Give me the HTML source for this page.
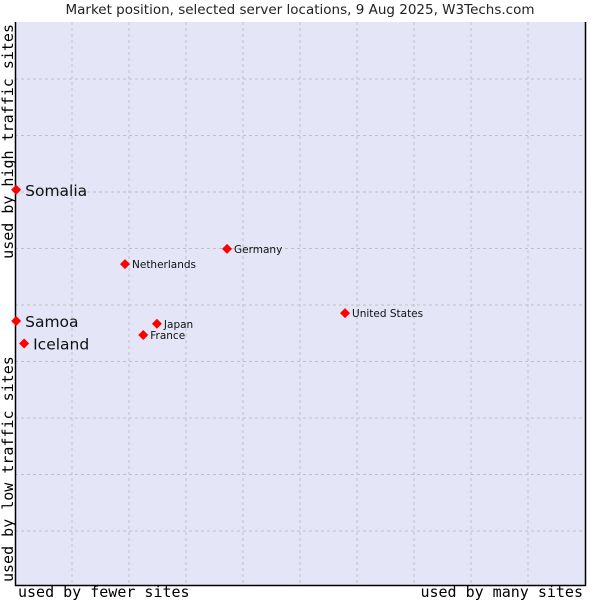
<!DOCTYPE html>
<html><head><meta charset="utf-8"><style>
body{margin:0;background:#fff;width:600px;height:600px;overflow:hidden}
svg{display:block}
</style></head><body>
<svg width="600" height="600" xmlns="http://www.w3.org/2000/svg">
<text x="300" y="14" text-anchor="middle" font-family="DejaVu Sans, sans-serif" font-size="13.5" fill="#222">Market position, selected server locations, 9 Aug 2025, W3Techs.com</text>
<rect x="15" y="22" width="570" height="563" fill="#e4e6f8"/>
<g id="grid"></g>
<path d="M15.5 22 V585.5 H585.5 V22" fill="none" stroke="#000" stroke-width="1.5"/>
<text x="18" y="597" font-family="DejaVu Sans Mono, monospace" font-size="15" fill="#000">used by fewer sites</text>
<text x="583" y="597" text-anchor="end" font-family="DejaVu Sans Mono, monospace" font-size="15" fill="#000">used by many sites</text>
<text transform="translate(13,582) rotate(-90)" font-family="DejaVu Sans Mono, monospace" font-size="15" fill="#000">used by low traffic sites</text>
<text transform="translate(13,24) rotate(-90)" text-anchor="end" font-family="DejaVu Sans Mono, monospace" font-size="15" fill="#000">used by high traffic sites</text>
<g id="points"></g>
</svg>
<script>
const names=["Somalia","Netherlands","Germany","United States","Samoa","Japan","France","Iceland"];
const xs=[0.2,19.3,37.2,57.9,0.2,24.9,22.5,1.6];
const ys=[70.2,57.0,59.7,48.3,46.9,46.4,44.4,42.9];
const big=[true,false,false,false,true,false,false,true];
const L=15,R=585,T=22,B=585;
const sx=v=>L+(R-L)*v/100, sy=v=>B-(B-T)*v/100;
const ns="http://www.w3.org/2000/svg";
const g=document.getElementById('grid');
for(let i=1;i<10;i++){
 const x=L+57*i;
 const l=document.createElementNS(ns,'line');
 l.setAttribute('x1',x);l.setAttribute('x2',x);l.setAttribute('y1',T);l.setAttribute('y2',B);
 l.setAttribute('stroke','#c0c0c0');l.setAttribute('stroke-dasharray','3,3');
 
 
 g.appendChild(l);
 const y=T+56.5*i+0.5;
 const h=document.createElementNS(ns,'line');
 h.setAttribute('x1',L);h.setAttribute('x2',R);h.setAttribute('y1',y);h.setAttribute('y2',y);
 h.setAttribute('stroke','#c0c0c0');h.setAttribute('stroke-dasharray','3,3');
 
 
 g.appendChild(h);
}
const p=document.getElementById('points');
names.forEach((n,i)=>{
 const x=sx(xs[i]),y=sy(ys[i]);
 const d=document.createElementNS(ns,'path');
 d.setAttribute('d',`M${x} ${y-5}L${x+5} ${y}L${x} ${y+5}L${x-5} ${y}Z`);
 d.setAttribute('fill','#f00');
 
 
 p.appendChild(d);
 const t=document.createElementNS(ns,'text');
 t.setAttribute('x',x+(big[i]?9:7));t.setAttribute('y',y+(big[i]?6:4));
 t.setAttribute('font-family','DejaVu Sans, sans-serif');
 t.setAttribute('font-size',big[i]?'15.5':'10.5');
 t.setAttribute('fill','#111');
 t.textContent=n;
 
 
 p.appendChild(t);
});
</script>
</body></html>
